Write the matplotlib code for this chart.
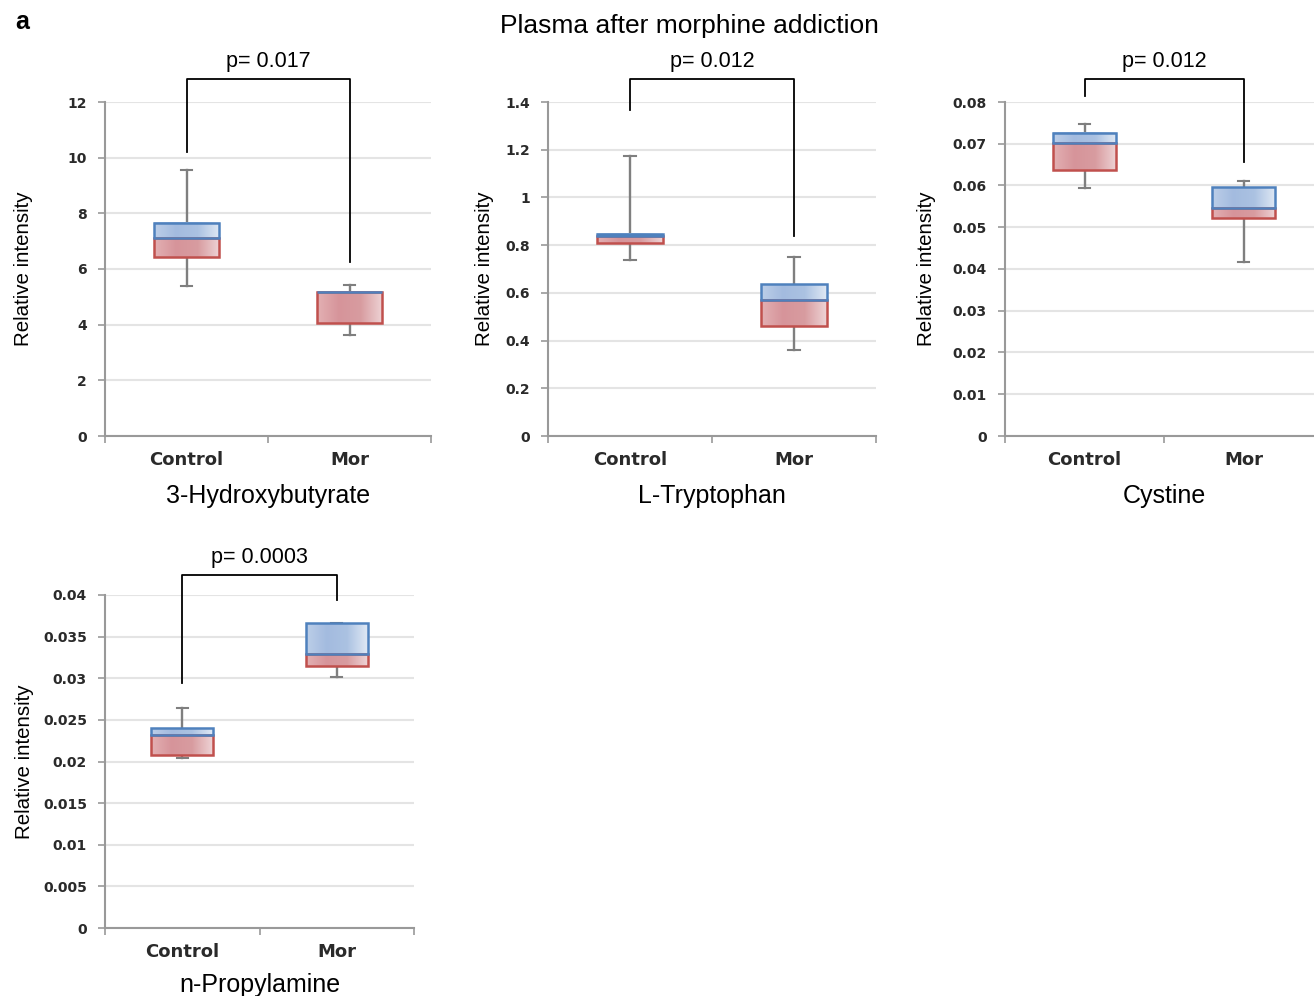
import numpy as np
import matplotlib.pyplot as plt
from matplotlib.colors import LinearSegmentedColormap
import matplotlib.transforms as mtransforms

# Data
names = ['3-Hydroxybutyrate', 'L-Tryptophan', 'Cystine', 'n-Propylamine']
groups = ['Control', 'Mor']
whisk_lo = [[5.39, 3.63], [0.738, 0.360], [0.0594, 0.0417], [0.0204, 0.0301]]
q1 = [[6.43, 4.06], [0.809, 0.461], [0.0637, 0.0522], [0.0208, 0.0315]]
med = [[7.11, 5.17], [0.838, 0.570], [0.0702, 0.0546], [0.0232, 0.0329]]
q3 = [[7.65, 5.19], [0.847, 0.637], [0.0726, 0.0596], [0.0240, 0.0366]]
whisk_hi = [[9.56, 5.43], [1.173, 0.750], [0.0747, 0.0611], [0.0264, 0.0366]]
p_values = ['p= 0.017', 'p= 0.012', 'p= 0.012', 'p= 0.0003']
y_max = [12, 1.4, 0.08, 0.04]
y_step = [2, 0.2, 0.01, 0.005]
bracket_legs = [[10.2, 6.25], [1.366, 0.838], [0.0814, 0.0656], [0.0294, 0.0394]]

# layout (figure fractions): left, bottom, width, height
positions = [
    [105 / 1314, 560 / 996, 326 / 1314, 334 / 996],
    [548 / 1314, 560 / 996, 328 / 1314, 334 / 996],
    [1005 / 1314, 560 / 996, 318 / 1314, 334 / 996],
    [105 / 1314, 68 / 996, 309 / 1314, 333 / 996],
]
ylabel_x = [-0.249, -0.195, -0.246, -0.262]
xlabel_y = [-0.18, -0.18, -0.18, -0.17]

helv = 'Liberation Sans'

red_cmap = LinearSegmentedColormap.from_list(
    'r', ['#e3b0b3', '#d6949a', '#d89ca0', '#eed3d5'])
blue_cmap = LinearSegmentedColormap.from_list(
    'b', ['#bccee8', '#a3bbdf', '#abc2e2', '#dfe8f4'])
grad = np.linspace(0, 1, 100).reshape(1, -1)

fig = plt.figure(figsize=(13.14, 9.96), dpi=100)
fig.text(22 / 1314, 1 - 22 / 996, 'a', fontsize=18, fontweight='bold',
         family=helv, ha='center', va='center')
fig.text(689 / 1314, 1 - 26 / 996, 'Plasma after morphine addiction',
         fontsize=19, family=helv, ha='center', va='center')

box_w = 0.4
cap_w = 0.07
for i in range(4):
    ax = fig.add_axes(positions[i])
    xs = np.arange(len(groups))
    for j, x in enumerate(xs):
        # whiskers
        ax.plot([x, x], [whisk_lo[i][j], q1[i][j]], color='#7f7f7f', lw=1.7, zorder=2)
        ax.plot([x, x], [q3[i][j], whisk_hi[i][j]], color='#7f7f7f', lw=1.7, zorder=2)
        for yv in (whisk_lo[i][j], whisk_hi[i][j]):
            ax.plot([x - cap_w / 2, x + cap_w / 2], [yv, yv], color='#7f7f7f', lw=1.5, zorder=2)
        # lower (red) and upper (blue) parts with horizontal gradient
        ax.imshow(grad, cmap=red_cmap, aspect='auto', zorder=3,
                  extent=(x - box_w / 2, x + box_w / 2, q1[i][j], med[i][j]))
        ax.imshow(grad, cmap=blue_cmap, aspect='auto', zorder=3,
                  extent=(x - box_w / 2, x + box_w / 2, med[i][j], q3[i][j]))
        ax.add_patch(plt.Rectangle((x - box_w / 2, q1[i][j]), box_w, med[i][j] - q1[i][j],
                                   fill=False, ec='#c0504d', lw=1.8, zorder=4))
        ax.add_patch(plt.Rectangle((x - box_w / 2, med[i][j]), box_w, q3[i][j] - med[i][j],
                                   fill=False, ec='#4f81bd', lw=1.8, zorder=5))

    ax.set_xlim(-0.5, 1.5)
    ax.set_ylim(0, y_max[i])
    ax.set_yticks(np.arange(0, y_max[i] + y_step[i] / 2, y_step[i]))
    ax.yaxis.set_major_formatter(plt.FuncFormatter(lambda v, p: '{:g}'.format(round(v, 6))))
    ax.grid(axis='y', color='#e4e4e4', lw=1.5, zorder=0)
    ax.set_axisbelow(True)
    ax.set_xticks(xs)
    ax.set_xticklabels(groups, fontsize=13, fontweight='bold', color='#2a2a2a')
    ax.set_xticks([-0.5, 0.5, 1.5], minor=True)
    ax.tick_params(axis='x', which='major', length=0, pad=11)
    ax.tick_params(axis='x', which='minor', length=5, color='#999999', width=1.2)
    ax.tick_params(axis='y', length=5, color='#999999', width=1.2, labelsize=10, pad=8)
    for lab in ax.get_yticklabels():
        lab.set_fontweight('bold')
        lab.set_color('#2a2a2a')
    for s in ['top', 'right']:
        ax.spines[s].set_visible(False)
    for s in ['left', 'bottom']:
        ax.spines[s].set_color('#999999')
        ax.spines[s].set_linewidth(1.5)
    ax.text(0.5, xlabel_y[i], names[i], transform=ax.transAxes, fontsize=18,
            family=helv, ha='center', va='center')
    ax.text(ylabel_x[i], 0.5, 'Relative intensity', transform=ax.transAxes,
            fontsize=14.8, family=helv, rotation=90, ha='center', va='center')

    # significance bracket
    trans = mtransforms.blended_transform_factory(ax.transData, ax.transAxes)
    top = 1.068 if i < 3 else 1.06
    y0 = ax.transLimits.transform((0, bracket_legs[i][0]))[1]
    y1 = ax.transLimits.transform((0, bracket_legs[i][1]))[1]
    ax.plot([0, 0, 1, 1], [y0, top, top, y1], color='black', lw=1.3,
            transform=trans, clip_on=False, zorder=6)
    ax.text(0.5, top + 0.053, p_values[i], transform=trans, ha='center',
            va='center', fontsize=15.5, family=helv)

fig.savefig('out.png', dpi=100)
